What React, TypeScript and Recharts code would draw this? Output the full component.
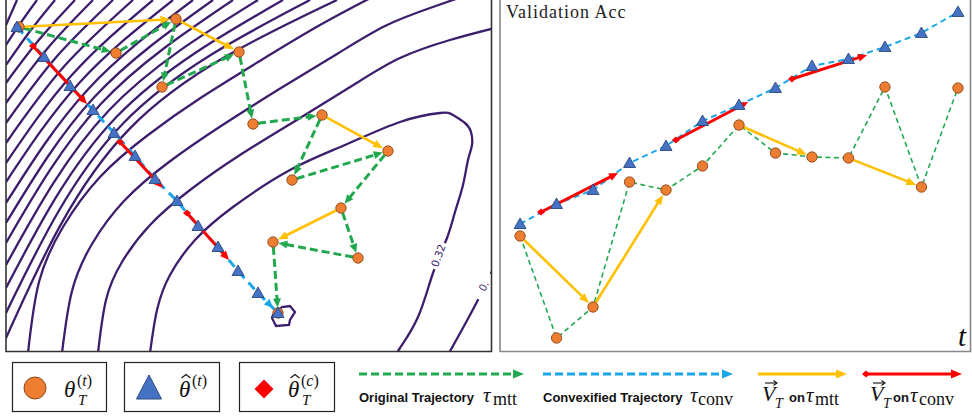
import React from 'react';
import { ComposedChart, Line, Scatter, XAxis, YAxis, ReferenceLine } from 'recharts';

type Pt = [number, number];

// ---- left panel: loss landscape over (theta1, theta2) ----
const contourMin: Pt[] = [
  [2.73, -3.15], [2.82, -3.07], [2.9, -3.06], [2.95, -3.12], [2.9, -3.2], [2.89, -3.25], [2.76, -3.26], [2.72, -3.18],
];
const contour032: Pt[] = [
  [1.5, -3.53], [1.57, -3.1], [1.7, -2.75], [1.95, -2.4], [2.33, -2.07], [2.9, -1.7], [3.45, -1.45], [4.0, -1.22],
  [4.4, -1.13], [4.53, -1.15], [4.65, -1.23], [4.71, -1.32], [4.72, -1.45], [4.68, -1.6], [4.63, -1.85], [4.55, -2.12],
  [4.47, -2.38], [4.33, -2.73], [4.18, -3.17], [4.0, -3.48], [3.98, -3.53],
];
const contour034Left: Pt[] = [
  [0.98, -3.53], [1.06, -3.0], [1.22, -2.62], [1.5, -2.25], [1.9, -1.9], [2.4, -1.55], [3.0, -1.18], [3.55, -0.84],
  [4.0, -0.58], [4.5, -0.4], [4.95, -0.28],
];
const contour034Right: Pt[] = [[4.96, -2.62], [4.88, -2.8], [4.7, -3.15], [4.49, -3.53]];
const contourOuter: Pt[][] = [
  [[0.62, -3.53], [0.72, -2.91], [0.92, -2.44], [1.24, -2.01], [1.69, -1.62], [2.21, -1.26], [2.81, -0.88], [3.37, -0.54], [3.85, -0.26], [4.3, -0.08], [4.7, 0.06]],
  [[0.28, -3.53], [0.39, -2.82], [0.63, -2.27], [1.0, -1.77], [1.48, -1.35], [2.02, -0.97], [2.63, -0.59], [3.2, -0.25], [3.8, 0.07]],
  [[0.06, -3.38], [1.3, -1.284], [3.37, 0]],
  [[0.06, -3.13], [1.235, -1.23], [3.1, 0]],
  [[0.06, -2.88], [1.164, -1.17], [2.83, 0]],
  [[0.06, -2.65], [1.088, -1.105], [2.58, 0]],
  [[0.06, -2.43], [1.008, -1.04], [2.33, 0]],
  [[0.06, -2.23], [0.942, -0.973], [2.13, 0]],
  [[0.06, -2.03], [0.872, -0.902], [1.93, 0]],
  [[0.06, -1.82], [0.799, -0.822], [1.73, 0]],
  [[0.06, -1.63], [0.721, -0.748], [1.53, 0]],
  [[0.06, -1.43], [0.64, -0.666], [1.33, 0]],
  [[0.06, -1.23], [0.555, -0.58], [1.13, 0]],
  [[0.06, -1.03], [0.468, -0.492], [0.93, 0]],
  [[0.06, -0.83], [0.388, -0.401], [0.75, 0]],
  [[0.06, -0.65], [0.296, -0.317], [0.55, 0]],
  [[0.06, -0.45], [0.211, -0.222], [0.37, 0]],
  [[0.06, -0.25], [0.115, -0.125], [0.17, 0]],
];
const contourLabels = [
  { x: 4.38, y: -2.555, text: '0.32' },
  { x: 4.835, y: -2.86, text: '0.' },
];

// original trajectory theta_T^(t) and convexified trajectory
const origTheta: Pt[] = [
  [0.19, -0.27], [1.16, -0.53], [1.76, -0.19], [1.62, -0.87], [2.39, -0.52], [2.53, -1.24], [3.22, -1.15],
  [2.92, -1.8], [3.88, -1.51], [3.41, -2.08], [3.58, -2.58], [2.73, -2.42], [2.78, -3.13],
];
const convTheta: Pt[] = [
  [0.17, -0.27], [0.44, -0.57], [0.7, -0.86], [0.93, -1.1], [1.14, -1.33], [1.35, -1.56], [1.55, -1.79],
  [1.77, -2.01], [1.98, -2.26], [2.18, -2.47], [2.38, -2.71], [2.58, -2.93], [2.78, -3.13],
];
const mttVecIdx: [number, number][] = [[0, 2], [2, 4], [6, 8], [9, 11]];
const convVecLeft: [Pt, Pt][] = [
  [[0.33, -0.46], [0.87, -1.04]],
  [[1.2, -1.42], [1.63, -1.88]],
  [[1.87, -2.13], [2.29, -2.6]],
];

// ---- right panel: validation accuracy per step ----
const steps = [0, 1, 2, 3, 4, 5, 6, 7, 8, 9, 10, 11, 12];
const accOrig = [0.664, 0.562, 0.593, 0.718, 0.71, 0.734, 0.775, 0.747, 0.743, 0.742, 0.813, 0.713, 0.812];
const accConv = [0.676, 0.696, 0.71, 0.737, 0.754, 0.779, 0.795, 0.812, 0.834, 0.841, 0.853, 0.867, 0.888];
const mttVecIdxRight: [number, number][] = [[0, 2], [2, 4], [6, 8], [9, 11]];
const convVecRight: [Pt, Pt][] = [
  [[0.575, 0.688], [2.685, 0.727]],
  [[4.27, 0.76], [6.25, 0.798]],
  [[7.45, 0.821], [9.51, 0.845]],
];

const C = {
  contour: '#3d1e6d',
  green: '#22a84f',
  blue: '#1ba6e8',
  yellow: '#ffc000',
  red: '#ff0000',
  orange: '#ed7d31',
  orangeEdge: '#8a4a1c',
  tri: '#4472c4',
  triEdge: '#2c4a80',
};

const rows = (pts: Pt[]) => pts.map(([x, y]) => ({ x, y }));
const seriesRows = (ys: number[]) => steps.map((s, i) => ({ x: s, y: ys[i] }));

type ArrowOpt = { w: number; dash?: string; hl?: number; hw?: number; t0?: number; t1?: number; tail?: boolean; noLine?: boolean };
const arrow = (color: string, o: ArrowOpt) => (p: any) => {
  const { x1, y1, x2, y2 } = p;
  if (![x1, y1, x2, y2].every((v) => typeof v === 'number' && isFinite(v))) return <g />;
  const len = Math.hypot(x2 - x1, y2 - y1) || 1;
  const ux = (x2 - x1) / len;
  const uy = (y2 - y1) / len;
  const hl = o.hl ?? 9;
  const hw = o.hw ?? 8;
  const sx = x1 + ux * (o.t0 ?? 0);
  const sy = y1 + uy * (o.t0 ?? 0);
  const tx = x2 - ux * (o.t1 ?? 0);
  const ty = y2 - uy * (o.t1 ?? 0);
  const bx = tx - ux * hl;
  const by = ty - uy * hl;
  return (
    <g>
      {!o.noLine && (
        <line x1={sx} y1={sy} x2={bx + ux} y2={by + uy} stroke={color} strokeWidth={o.w} strokeDasharray={o.dash} />
      )}
      <polygon
        points={`${tx},${ty} ${bx - uy * hw / 2},${by + ux * hw / 2} ${bx + uy * hw / 2},${by - ux * hw / 2}`}
        fill={color}
      />
      {o.tail && (
        <polygon points={`${sx - 4},${sy} ${sx},${sy - 3.5} ${sx + 4},${sy} ${sx},${sy + 3.5}`} fill={color} />
      )}
    </g>
  );
};

const dotShape = (p: any) => (
  <circle cx={p.cx} cy={p.cy} r={5.2} fill={C.orange} stroke={C.orangeEdge} strokeWidth={0.9} />
);
const triShape = (p: any) => (
  <polygon
    points={`${p.cx},${p.cy - 6} ${p.cx - 6},${p.cy + 4.5} ${p.cx + 6},${p.cy + 4.5}`}
    fill={C.tri}
    stroke={C.triEdge}
    strokeWidth={0.9}
  />
);
const labelAngle: Record<string, number> = { '0.32': -70, '0.': -62 };
const labelShape = (p: any) => (
  <g transform={`translate(${p.cx},${p.cy}) rotate(${labelAngle[p.payload.text] ?? -70})`}>
    <rect x={-14} y={-6} width={28} height={12} fill="#fff" />
    <text textAnchor="middle" dominantBaseline="central" fontSize={10.5} fontFamily="DejaVu Sans" fill={C.contour}>
      {p.payload.text}
    </text>
  </g>
);

function Landscape() {
  const lineProps = { dataKey: 'y', dot: false, activeDot: false, isAnimationActive: false, stroke: C.contour, strokeWidth: 2.3 };
  return (
    <ComposedChart width={485} height={351} margin={{ top: 0, right: 0, bottom: 0, left: 0 }}>
      <XAxis type="number" dataKey="x" domain={[0.06, 4.91]} hide allowDataOverflow />
      <YAxis type="number" dataKey="y" domain={[-3.51, 0]} hide allowDataOverflow />
      <Line {...lineProps} name="min" data={rows(contourMin)} type="linearClosed" />
      <Line {...lineProps} name="c032" data={rows(contour032)} type="natural" />
      <Line {...lineProps} name="c034a" data={rows(contour034Left)} type="natural" />
      <Line {...lineProps} name="c034b" data={rows(contour034Right)} type="natural" />
      {contourOuter.map((c, i) => (
        <Line key={i} {...lineProps} name={`outer${i}`} data={rows(c)} type="natural" />
      ))}
      <Line
        name="conv"
        data={rows(convTheta)}
        dataKey="y"
        type="linear"
        stroke={C.blue}
        strokeWidth={3}
        strokeDasharray="9 6"
        dot={false}
        activeDot={false}
        isAnimationActive={false}
      />
      <ReferenceLine
        segment={[{ x: convTheta[11][0], y: convTheta[11][1] }, { x: convTheta[12][0], y: convTheta[12][1] }]}
        ifOverflow="visible"
        zIndex={450}
        shape={arrow(C.blue, { w: 3, noLine: true, t1: 7, hl: 9, hw: 8 })}
      />
      {convVecLeft.map(([a, b], i) => (
        <ReferenceLine
          key={`r${i}`}
          segment={[{ x: a[0], y: a[1] }, { x: b[0], y: b[1] }]}
          ifOverflow="visible"
          zIndex={450}
          shape={arrow(C.red, { w: 3, tail: true, hl: 9, hw: 8 })}
        />
      ))}
      {origTheta.slice(1).map((b, i) => (
        <ReferenceLine
          key={`g${i}`}
          segment={[{ x: origTheta[i][0], y: origTheta[i][1] }, { x: b[0], y: b[1] }]}
          ifOverflow="visible"
          zIndex={450}
          shape={arrow(C.green, { w: 3, dash: '8 4', t0: 5, t1: 5.5, hl: 9, hw: 8 })}
        />
      ))}
      {mttVecIdx.map(([a, b], i) => (
        <ReferenceLine
          key={`y${i}`}
          segment={[{ x: origTheta[a][0], y: origTheta[a][1] }, { x: origTheta[b][0], y: origTheta[b][1] }]}
          ifOverflow="visible"
          zIndex={450}
          shape={arrow(C.yellow, { w: 2.6, t0: 5, t1: 5.5, hl: 10, hw: 8 })}
        />
      ))}
      <Scatter name="labels" data={contourLabels} shape={labelShape} isAnimationActive={false} />
      <Scatter name="orig" data={rows(origTheta)} shape={dotShape} isAnimationActive={false} />
      <Scatter name="convPts" data={rows(convTheta)} shape={triShape} isAnimationActive={false} />
    </ComposedChart>
  );
}

function Accuracy() {
  const orig = seriesRows(accOrig);
  const conv = seriesRows(accConv);
  return (
    <ComposedChart width={470} height={351} margin={{ top: 0, right: 0, bottom: 0, left: 0 }}>
      <XAxis type="number" dataKey="x" domain={[-0.55, 12.33]} hide allowDataOverflow />
      <YAxis type="number" dataKey="y" domain={[0.549, 0.9]} hide allowDataOverflow />
      <Line name="convLine" data={conv} dataKey="y" type="linear" stroke={C.blue} strokeWidth={2}
        strokeDasharray="6 4" dot={false} activeDot={false} isAnimationActive={false} />
      <Line name="origLine" data={orig} dataKey="y" type="linear" stroke={C.green} strokeWidth={1.6}
        strokeDasharray="5 3.5" dot={false} activeDot={false} isAnimationActive={false} />
      {convVecRight.map(([a, b], i) => (
        <ReferenceLine
          key={`r${i}`}
          segment={[{ x: a[0], y: a[1] }, { x: b[0], y: b[1] }]}
          ifOverflow="visible"
          zIndex={450}
          shape={arrow(C.red, { w: 3, tail: true, hl: 9, hw: 8 })}
        />
      ))}
      {mttVecIdxRight.map(([a, b], i) => (
        <ReferenceLine
          key={`y${i}`}
          segment={[{ x: steps[a], y: accOrig[a] }, { x: steps[b], y: accOrig[b] }]}
          ifOverflow="visible"
          zIndex={450}
          shape={arrow(C.yellow, { w: 2.6, t0: 5, t1: 5.5, hl: 10, hw: 8 })}
        />
      ))}
      <Scatter name="orig" data={orig} shape={dotShape} isAnimationActive={false} />
      <Scatter name="conv" data={conv} shape={triShape} isAnimationActive={false} />
    </ComposedChart>
  );
}

const serif = 'Liberation Serif, DejaVu Serif, serif';
const sans = 'Liberation Sans, Arial, sans-serif';

function Hat({ x, y }: { x: number; y: number }) {
  return <path d={`M${x - 4.5},${y + 3.5} L${x},${y} L${x + 4.5},${y + 3.5}`} fill="none" stroke="#111" strokeWidth={1.1} />;
}
function VecArrow({ x, y }: { x: number; y: number }) {
  return (
    <g>
      <line x1={x} y1={y} x2={x + 11} y2={y} stroke="#111" strokeWidth={1.1} />
      <path d={`M${x + 8.5},${y - 2.5} L${x + 12},${y} L${x + 8.5},${y + 2.5}`} fill="none" stroke="#111" strokeWidth={1.1} />
    </g>
  );
}

function Overlay() {
  const sampleY = 374;
  return (
    <svg width={972} height={417} style={{ position: 'absolute', left: 0, top: 0, pointerEvents: 'none' }}>
      {/* panel frames */}
      <path d="M6,-2 V351.5 H491.5 V-2" fill="none" stroke="#333" strokeWidth={1.6} />
      <path d="M500,-2 V351.5 H970.5 V-2" fill="none" stroke="#888" strokeWidth={1.6} />
      <text x={506} y={17.5} fontFamily={serif} fontSize={18} letterSpacing={1} fill="#222">Validation Acc</text>
      <text x={958} y={346} fontFamily={serif} fontStyle="italic" fontSize={29} fill="#111">t</text>

      {/* marker legend boxes */}
      <rect x={12.5} y={362.5} width={94} height={49} fill="#fff" stroke="#222" strokeWidth={1.2} />
      <circle cx={35} cy={388} r={11} fill={C.orange} stroke={C.orangeEdge} strokeWidth={1} />
      <text x={64} y={397} fontFamily={serif} fontStyle="italic" fontSize={23} fill="#111">θ</text>
      <text x={77} y={386} fontFamily={serif} fontSize={16} fill="#111">(<tspan fontStyle="italic">t</tspan>)</text>
      <text x={78} y={405} fontFamily={serif} fontStyle="italic" fontSize={15} fill="#111">T</text>

      <rect x={124.5} y={362.5} width={95} height={49} fill="#fff" stroke="#222" strokeWidth={1.2} />
      <polygon points="149,375 136.5,399 161.5,399" fill={C.tri} stroke={C.triEdge} strokeWidth={1} />
      <Hat x={186} y={374.5} />
      <text x={179} y={397} fontFamily={serif} fontStyle="italic" fontSize={23} fill="#111">θ</text>
      <text x={192} y={386} fontFamily={serif} fontSize={16} fill="#111">(<tspan fontStyle="italic">t</tspan>)</text>

      <rect x={239.5} y={362.5} width={95} height={49} fill="#fff" stroke="#222" strokeWidth={1.2} />
      <polygon points="264,379.5 273.5,389 264,398.5 254.5,389" fill={C.red} />
      <Hat x={295} y={374.5} />
      <text x={288} y={397} fontFamily={serif} fontStyle="italic" fontSize={23} fill="#111">θ</text>
      <text x={301} y={386} fontFamily={serif} fontSize={16} fill="#111">(<tspan fontStyle="italic">c</tspan>)</text>
      <text x={302} y={405} fontFamily={serif} fontStyle="italic" fontSize={15} fill="#111">T</text>

      {/* line legend */}
      <line x1={359} y1={sampleY} x2={514} y2={sampleY} stroke={C.green} strokeWidth={3} strokeDasharray="8 4" />
      <polygon points={`524,${sampleY} 513,${sampleY - 4.5} 513,${sampleY + 4.5}`} fill={C.green} />
      <text x={359} y={402} fontFamily={sans} fontWeight="bold" fontSize={13} fill="#111">Original Trajectory</text>
      <text x={483} y={402} fontFamily={serif} fontStyle="italic" fontSize={21} fill="#111">τ</text>
      <text x={493} y={405} fontFamily={serif} fontSize={18} fill="#111">mtt</text>

      <line x1={543} y1={sampleY} x2={723} y2={sampleY} stroke={C.blue} strokeWidth={3} strokeDasharray="8 4" />
      <polygon points={`733,${sampleY} 722,${sampleY - 4.5} 722,${sampleY + 4.5}`} fill={C.blue} />
      <text x={543} y={402} fontFamily={sans} fontWeight="bold" fontSize={13} fill="#111">Convexified Trajectory</text>
      <text x={690} y={402} fontFamily={serif} fontStyle="italic" fontSize={21} fill="#111">τ</text>
      <text x={698} y={405} fontFamily={serif} fontSize={18} fill="#111">conv</text>

      <line x1={758} y1={sampleY} x2={837} y2={sampleY} stroke={C.yellow} strokeWidth={3} />
      <polygon points={`847,${sampleY} 836,${sampleY - 4.5} 836,${sampleY + 4.5}`} fill={C.yellow} />
      <VecArrow x={765} y={383} />
      <text x={762} y={401} fontFamily={serif} fontStyle="italic" fontSize={22} fill="#111">V</text>
      <text x={775} y={408} fontFamily={serif} fontStyle="italic" fontSize={14} fill="#111">T</text>
      <text x={789} y={402} fontFamily={sans} fontWeight="bold" fontSize={13} fill="#111">on</text>
      <text x={806} y={402} fontFamily={serif} fontStyle="italic" fontSize={21} fill="#111">τ</text>
      <text x={815} y={405} fontFamily={serif} fontSize={18} fill="#111">mtt</text>

      <line x1={866} y1={sampleY} x2={952} y2={sampleY} stroke={C.red} strokeWidth={3} />
      <polygon points={`962,${sampleY} 951,${sampleY - 4.5} 951,${sampleY + 4.5}`} fill={C.red} />
      <polygon points={`862,${sampleY} 866,${sampleY - 3.5} 870,${sampleY} 866,${sampleY + 3.5}`} fill={C.red} />
      <VecArrow x={873} y={383} />
      <text x={870} y={401} fontFamily={serif} fontStyle="italic" fontSize={22} fill="#111">V</text>
      <text x={883} y={408} fontFamily={serif} fontStyle="italic" fontSize={14} fill="#111">T</text>
      <text x={893} y={402} fontFamily={sans} fontWeight="bold" fontSize={13} fill="#111">on</text>
      <text x={910} y={402} fontFamily={serif} fontStyle="italic" fontSize={21} fill="#111">τ</text>
      <text x={919} y={405} fontFamily={serif} fontSize={18} fill="#111">conv</text>
    </svg>
  );
}

export default function App() {
  return (
    <div style={{ position: 'absolute', left: 0, top: 0, width: 972, height: 417, background: '#fff', overflow: 'hidden' }}>
      <div style={{ position: 'absolute', left: 6, top: 0 }}>
        <Landscape />
      </div>
      <div style={{ position: 'absolute', left: 500, top: 0 }}>
        <Accuracy />
      </div>
      <Overlay />
    </div>
  );
}
